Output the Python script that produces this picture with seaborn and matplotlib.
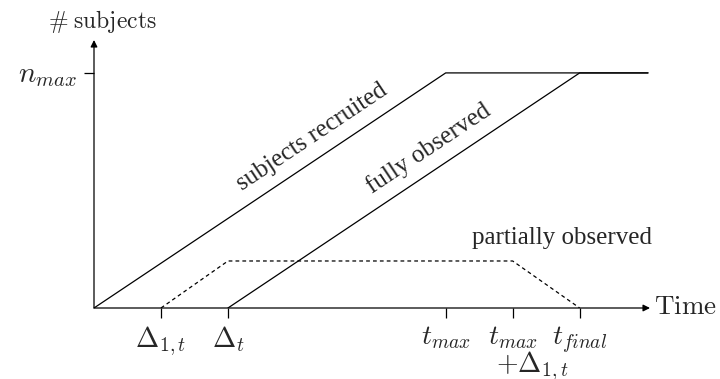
import pandas as pd
import matplotlib
matplotlib.use("Agg")
import matplotlib.pyplot as plt
import matplotlib.transforms as mtransforms
import seaborn as sns

# time points (in units of Delta_{1,t})
d1 = 1.0
dt = 2.0
t_max = 5.25
t_final = t_max + dt
t_end = 8.27
n_max = 100
n_partial = 20

recruited_x = [0, t_max, t_end]
recruited_y = [0, n_max, n_max]
full_x = [dt, t_final, t_end]
full_y = [0, n_max, n_max]
partial_x = [d1, dt, t_max + d1, t_final]
partial_y = [0, n_partial, n_partial, 0]

tick_pos = [d1, dt, t_max, t_max + d1, t_final]
tick_labels = [r"$\Delta_{1,t}$", r"$\Delta_t$", r"$t_{max}$",
               r"$t_{max}$", r"$t_{final}$"]
second_line = r"$+\Delta_{1,t}$"

sns.set_style("white")
plt.rcParams["mathtext.fontset"] = "cm"
plt.rcParams["font.family"] = ["Liberation Serif", "DejaVu Serif"]

fig = plt.figure(figsize=(7.2, 3.79), dpi=100)
ax = fig.add_axes([94 / 720, 71 / 379, 556 / 720, 268 / 379])

df_rec = pd.DataFrame({"x": recruited_x, "y": recruited_y})
df_full = pd.DataFrame({"x": full_x, "y": full_y})
df_part = pd.DataFrame({"x": partial_x, "y": partial_y})
sns.lineplot(data=df_rec, x="x", y="y", sort=False, color="black", lw=0.9, ax=ax)
sns.lineplot(data=df_full, x="x", y="y", sort=False, color="black", lw=0.9, ax=ax)
sns.lineplot(data=df_part, x="x", y="y", sort=False, color="black", lw=0.9,
             ax=ax, linestyle=(0, (3, 2.5)))

ax.set_xlim(0, 8.3)
ax.set_ylim(0, 114)
for s in ax.spines.values():
    s.set_visible(False)

# axes with arrows
ax.annotate("", xy=(1, 0), xytext=(0, 0), xycoords="axes fraction",
            arrowprops=dict(arrowstyle="-|>", color="black", lw=0.9,
                            mutation_scale=10, shrinkA=0, shrinkB=0))
ax.annotate("", xy=(0, 1), xytext=(0, 0), xycoords="axes fraction",
            arrowprops=dict(arrowstyle="-|>", color="black", lw=0.9,
                            mutation_scale=10, shrinkA=0, shrinkB=0))

ax.set_xticks(tick_pos)
ax.set_xticklabels(tick_labels, fontsize=20, va="top")
ax.set_yticks([n_max])
ax.set_yticklabels([r"$n_{max}$"], fontsize=21)
ax.tick_params(axis="both", direction="out", length=7, width=0.9, color="black",
               bottom=True, left=True, pad=5)
ax.set_xlabel("")
ax.set_ylabel("")

# second line of the t_max + Delta_{1,t} label, left-aligned with the first
blend = mtransforms.blended_transform_factory(ax.transData, ax.transAxes)
ax.text(t_max + d1 - 0.25, -0.155, second_line, transform=blend, fontsize=20,
        ha="left", va="top")

ax.text(1.008, 0, r"$\mathrm{Time}$", transform=ax.transAxes, fontsize=19.5,
        ha="left", va="center")
ax.text(0.015, 1.018, r"$\#\;\mathrm{subjects}$", transform=ax.transAxes, fontsize=17,
        ha="center", va="bottom")

ax.text(3.25, 72.8, "subjects recruited", fontsize=18, rotation=33.7,
        ha="center", va="center", rotation_mode="anchor")
ax.text(4.99, 68, "fully observed", fontsize=18, rotation=33.7,
        ha="center", va="center", rotation_mode="anchor")
ax.text(6.99, 29.8, "partially observed", fontsize=18, ha="center", va="center")

plt.savefig("out.png", dpi=100)
